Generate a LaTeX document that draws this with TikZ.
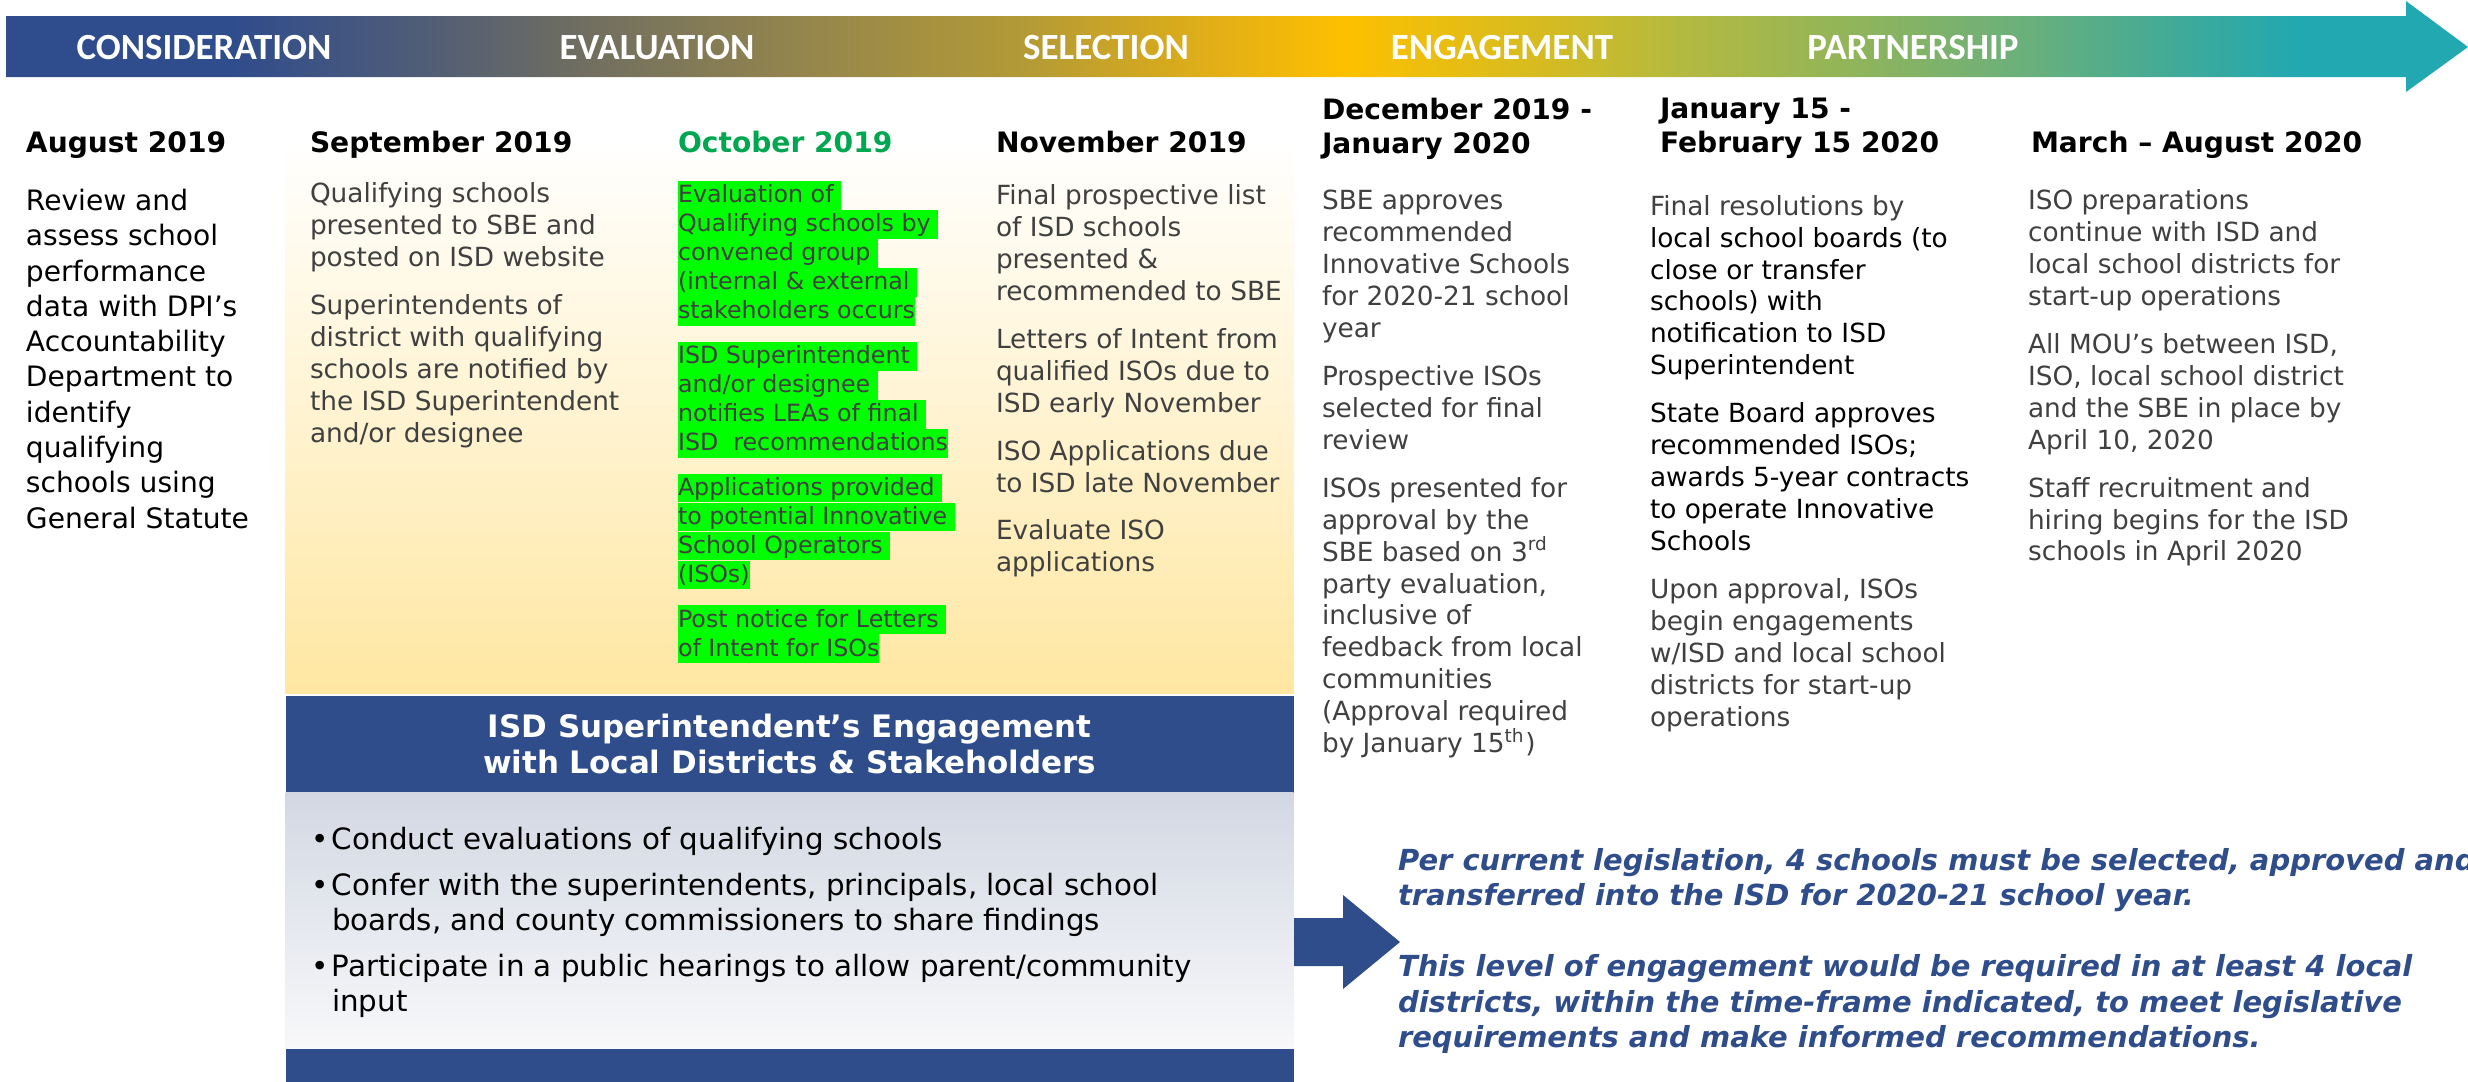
\documentclass[tikz,border=0pt]{standalone}
\usepackage{fontspec}
\setmainfont{DejaVu Sans}
\newfontfamily\phasefont{Carlito}
\usepackage{xcolor}
\usepackage{tikz}
\usetikzlibrary{positioning}

\definecolor{isdblue}{HTML}{2F4D8A}
\definecolor{txtgray}{HTML}{404040}
\definecolor{octgreen}{HTML}{00A650}
\definecolor{hlgreen}{HTML}{00FF00}
\definecolor{paleyellow}{HTML}{FFE7A2}
\definecolor{listtop}{HTML}{D2D8E3}
\definecolor{listbot}{HTML}{F8F8FA}
% colours of the phase bar, left to right
\definecolor{barA}{HTML}{2F4C8C}
\definecolor{barB}{HTML}{4A5A7A}
\definecolor{barC}{HTML}{6D6C62}
\definecolor{barD}{HTML}{92844E}
\definecolor{barE}{HTML}{B39A36}
\definecolor{barF}{HTML}{E6B114}
\definecolor{barG}{HTML}{FDC000}
\definecolor{barH}{HTML}{D4BB22}
\definecolor{barI}{HTML}{B5BA3F}
\definecolor{barJ}{HTML}{8EB45C}
\definecolor{barK}{HTML}{6BB07B}
\definecolor{barL}{HTML}{40AA98}
\definecolor{barM}{HTML}{22A8B0}
\pgfdeclarehorizontalshading{phasebar}{100bp}{color(0bp)=(barA); color(29.51bp)=(barA);
  color(32.86bp)=(barB); color(36.37bp)=(barC); color(40.86bp)=(barD); color(45.65bp)=(barE);
  color(49.94bp)=(barF); color(52.17bp)=(barG); color(56.34bp)=(barH); color(58.90bp)=(barI);
  color(62.73bp)=(barJ); color(65.92bp)=(barK); color(69.11bp)=(barL); color(71.51bp)=(barM);
  color(100bp)=(barM)}

\newlength\hlht
\newlength\hldp
\newcommand\hl[1]{{\setlength\fboxsep{0pt}\setlength\hlht{0.755\baselineskip}\setlength\hldp{0.24\baselineskip}%
  \colorbox{hlgreen}{\rule[-\hldp]{0pt}{\dimexpr\hlht+\hldp\relax}#1}}}
\newcommand\blk[1]{\textcolor{black}{#1}}
\newcommand\bul{\makebox[2.1mm][l]{•}}

\begin{document}
\begin{tikzpicture}[x=0.1mm,y=-0.1mm,
    every node/.style={inner sep=0pt,outer sep=0pt},
    phaselabel/.style={font=\phasefont\bfseries\fontsize{10.5}{12}\selectfont,text=white,anchor=base},
    month/.style={font=\bfseries\fontsize{8}{9.7}\selectfont,anchor=base west,align=left},
    monthtwo/.style={month,anchor=north west,execute at begin node=\strut},
    coltext/.style={font=\fontsize{7.5}{9.1}\selectfont,text=txtgray,anchor=north west,align=left,
      execute at begin node=\strut},
    octtext/.style={font=\fontsize{6.75}{8.25}\selectfont,text=txtgray,anchor=north west,align=left},
    panel/.style={minimum width=100.8mm}]
\useasboundingbox (0,0) rectangle (2468,1081);

% phase arrow
\shade[shading=phasebar] (6,16) -- (2406,16) -- (2406,1) -- (2468,47) -- (2406,92) -- (2406,77) -- (6,77) -- cycle;
\node[phaselabel] (consid) at (204,59) {CONSIDERATION};
\node[phaselabel] (evalu)  at (657,59) {EVALUATION};
\node[phaselabel] (select) at (1106,59) {SELECTION};
\node[phaselabel] (engage) at (1502,59) {ENGAGEMENT};
\node[phaselabel] (partner) at (1913,59) {PARTNERSHIP};

% background of the evaluation months
\shade[top color=white,bottom color=paleyellow] (285,140) rectangle (1294,693);

% months
\node[month] (aug) at (26,152) {August 2019};
\node[month] (sep) at (310,152) {September 2019};
\node[month,text=octgreen] (oct) at (678,152) {October 2019};
\node[month] (nov) at (996,152) {November 2019};
\node[monthtwo] (dec) at (1322,98) {December 2019 -\\January 2020};
\node[monthtwo] (jan) at (1660,98) {January 15 -\\February 15 2020};
\node[month] (mar) at (2031,152) {March – August 2020};

% what happens in each month
\node[coltext,text=black,font=\fontsize{8}{10.05}\selectfont] (augtxt) at (26,189)
  {Review and\\assess school\\performance\\data with DPI’s\\Accountability\\Department to\\identify\\qualifying\\schools using\\General Statute};
\node[coltext] (septxt) at (310,182.6)
  {Qualifying schools\\presented to SBE and\\posted on ISD website\\[4.5pt]
   Superintendents of\\district with qualifying\\schools are notified by\\the ISD Superintendent\\and/or designee};
\node[octtext] (octtxt) at (678,181)
  {\hl{Evaluation of\ }\\\hl{Qualifying schools by\ }\\\hl{convened group\ }\\\hl{(internal \& external\ }\\\hl{stakeholders occurs}\\[4.5pt]
   \hl{ISD Superintendent\ }\\\hl{and/or designee\ }\\\hl{notifies LEAs of final\ }\\\hl{ISD\ \ recommendations}\\[4.5pt]
   \hl{Applications provided\ }\\\hl{to potential Innovative\ }\\\hl{School Operators\ }\\\hl{(ISOs)}\\[4.5pt]
   \hl{Post notice for Letters\ }\\\hl{of Intent for ISOs}};
\node[coltext] (novtxt) at (996,184.6)
  {Final prospective list\\of ISD schools\\presented \&\\recommended to SBE\\[4.5pt]
   Letters of Intent from\\qualified ISOs due to\\ISD early November\\[4.5pt]
   ISO Applications due\\to ISD late November\\[4.5pt]
   Evaluate ISO\\applications};
\node[coltext] (dectxt) at (1322,190)
  {SBE approves\\recommended\\Innovative Schools\\for 2020-21 school\\year\\[4.5pt]
   Prospective ISOs\\selected for final\\review\\[4.5pt]
   ISOs presented for\\approval by the\\SBE based on 3\textsuperscript{rd}\\party evaluation,\\inclusive of\\feedback from local\\communities\\(Approval required\\by January 15\textsuperscript{th})};
\node[coltext] (jantxt) at (1650,195)
  {Final resolutions by\\\blk{local school boards (to}\\\blk{close or transfer}\\\blk{schools) with}\\\blk{notification to ISD}\\\blk{Superintendent}\\[4.5pt]
   \blk{State Board approves}\\\blk{recommended ISOs;}\\\blk{awards 5-year contracts}\\\blk{to operate Innovative}\\\blk{Schools}\\[4.5pt]
   Upon approval, ISOs\\begin engagements\\w/ISD and local school\\districts for start-up\\operations};
\node[coltext] (martxt) at (2028,189.5)
  {ISO preparations\\continue with ISD and\\local school districts for\\start-up operations\\[4.5pt]
   All MOU’s between ISD,\\ISO, local school district\\and the SBE in place by\\April 10, 2020\\[4.5pt]
   Staff recruitment and\\hiring begins for the ISD\\schools in April 2020};

% engagement panel
\node[panel,fill=isdblue,minimum height=9.7mm,text=white,align=center,
      font=\bfseries\fontsize{8.8}{10.5}\selectfont] (engtitle) at (789.5,744)
  {ISD Superintendent’s Engagement\\with Local Districts \& Stakeholders};
\node[panel,top color=listtop,bottom color=listbot,minimum height=25.6mm,below=0pt of engtitle] (englist) {};
\node[panel,fill=isdblue,minimum height=3.5mm,below=0pt of englist] (engbar) {};
\node[coltext,text=black,font=\fontsize{8.35}{9.96}\selectfont] (bullets) at (311,827.5)
  {\bul Conduct evaluations of qualifying schools\\[3.1pt]
   \bul Confer with the superintendents, principals, local school\\\hspace*{2.1mm}boards, and county commissioners to share findings\\[3.1pt]
   \bul Participate in a public hearings to allow parent/community\\\hspace*{2.1mm}input};

% arrow to the note
\fill[isdblue] (1294,918) -- (1343,918) -- (1343,895) -- (1400,942) -- (1343,989) -- (1343,966) -- (1294,966) -- cycle;
\node[coltext,text=isdblue,font=\bfseries\itshape\fontsize{8.25}{10.2}\selectfont] (note) at (1398,848)
  {Per current legislation, 4 schools must be selected, approved and\\transferred into the ISD for 2020-21 school year.\\[9.8pt]
   This level of engagement would be required in at least 4 local\\districts, within the time-frame indicated, to meet legislative\\requirements and make informed recommendations.};
\end{tikzpicture}
\end{document}
